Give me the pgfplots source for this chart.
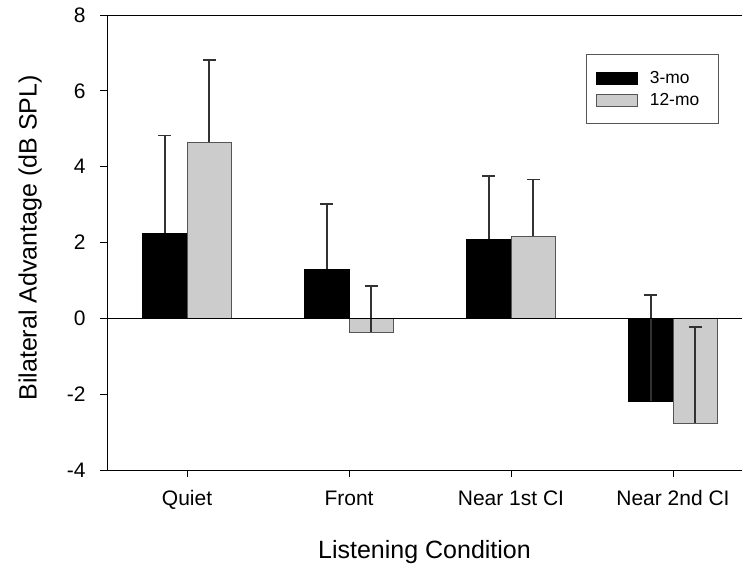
\documentclass[border=0pt]{standalone}
\usepackage{pgfplots}
\pgfplotsset{compat=1.18}
\usepackage{fontspec}
\setmainfont{Liberation Sans}
\definecolor{barGray}{RGB}{204,204,204}
\definecolor{edgeGray}{RGB}{85,85,85}
\definecolor{errGray}{RGB}{50,50,50}
\pgfplotsset{myerr/.style={error bars/.cd, y dir=plus, y explicit,
    error bar style={line width=1.8bp, errGray},
    error mark options={rotate=90, mark size=6.5bp, line width=1.8bp, errGray}}}
\begin{document}
\begin{tikzpicture}
\useasboundingbox (-107bp,-103bp) rectangle (635bp,470bp);
\begin{axis}[
  at={(0,0)}, anchor=south west,
  scale only axis,
  width=635bp, height=455bp,
  xmin=-0.494, xmax=3.426,
  ymin=-4, ymax=8,
  ytick={-4,-2,0,2,4,6,8},
  yticklabels={-4,-2,0,2,4,6,8},
  xtick={0,1,2,3},
  xticklabels={Quiet,Front,Near 1st CI,Near 2nd CI},
  axis x line*=bottom,
  axis y line*=left,
  axis line style={line width=0.9bp, -},
  tick align=outside,
  major tick length=7bp,
  tick style={line width=0.8bp, black},
  ticklabel style={font=\fontsize{21bp}{25bp}\selectfont},
  yticklabel style={xshift=-11bp},
  xticklabel style={text height=15bp, text depth=4.5bp, yshift=-10bp},
  xlabel={Listening Condition},
  ylabel={Bilateral Advantage (dB SPL)},
  label style={font=\fontsize{25bp}{30bp}\selectfont},
  xlabel style={at={(axis description cs:0.5,-0.18)}, anchor=center},
  ylabel style={at={(axis description cs:-0.121,0.51)}, anchor=center},
  legend style={at={(axis description cs:0.754,0.914)}, anchor=north west,
    draw=edgeGray, line width=0.8bp, inner xsep=10bp, inner ysep=15bp,
    font=\fontsize{17.4bp}{20bp}\selectfont, row sep=4bp, column sep=10bp,
    nodes={inner sep=2bp}},
  legend cell align=left,
  legend image code/.code={\draw[#1, line width=0.7bp] (0bp,-6bp) rectangle (41bp,6bp);},
]
\addplot[ybar, bar width=0.275, bar shift=0pt, fill=black, draw=black, line width=0.7bp, myerr]
  coordinates {(-0.1375,2.24) +- (0,2.58) (0.8625,1.29) +- (0,1.73) (1.8625,2.08) +- (0,1.68) (2.8625,-2.19) +- (0,2.80)};
\addlegendentry{3-mo}
\addplot[ybar, bar width=0.275, bar shift=0pt, fill=barGray, draw=edgeGray, line width=0.7bp, myerr]
  coordinates {(0.1375,4.64) +- (0,2.18) (1.1375,-0.36) +- (0,1.21) (2.1375,2.16) +- (0,1.50) (3.1375,-2.76) +- (0,2.54)};
\addlegendentry{12-mo\hspace*{7bp}}
\draw[line width=0.9bp] (rel axis cs:0,1) -- (rel axis cs:1,1);
\draw[line width=0.9bp] (axis cs:-0.494,0) -- (axis cs:3.426,0);
\end{axis}
\end{tikzpicture}
\end{document}
